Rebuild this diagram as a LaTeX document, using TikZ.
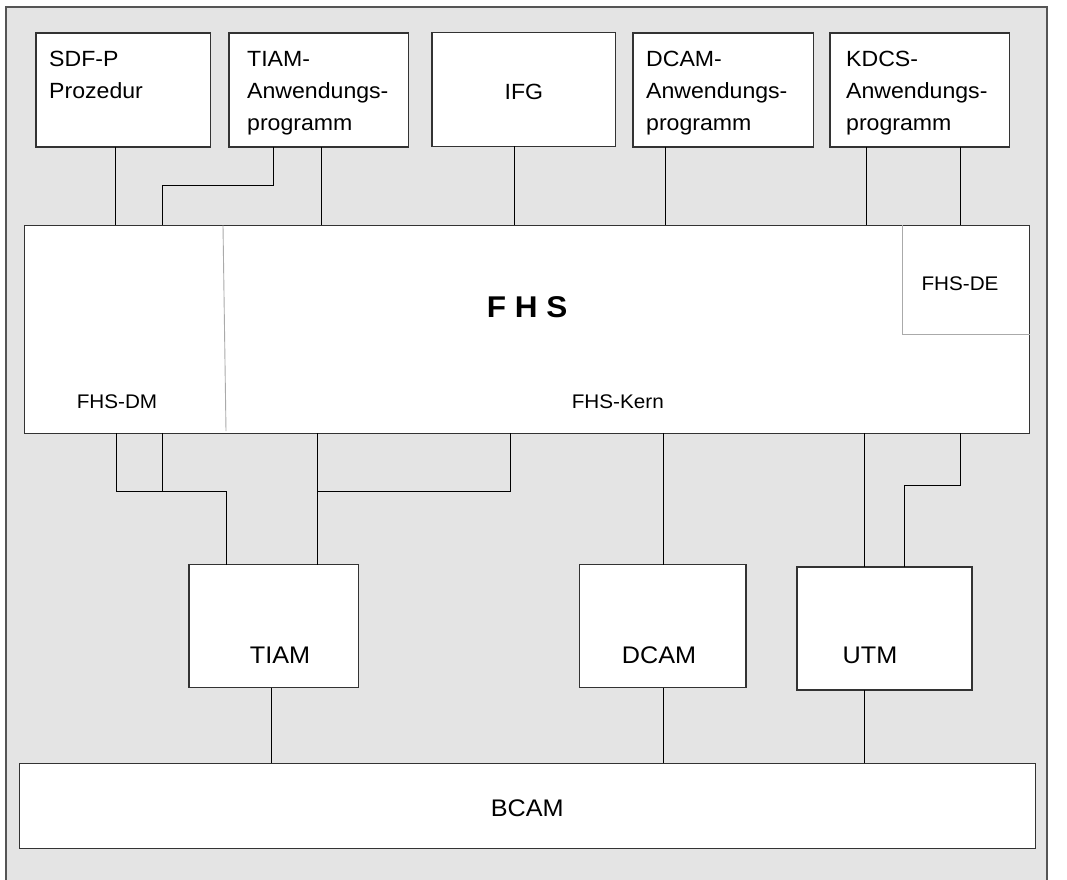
\documentclass[tikz,border=0pt]{standalone}
\usepackage{fontspec}
\setmainfont{Liberation Sans}[FakeStretch=1.05]
\definecolor{bg}{HTML}{E4E4E4}
\definecolor{framec}{HTML}{555555}
\definecolor{boxc}{HTML}{333333}
\definecolor{sepc}{HTML}{AAAAAA}
\begin{document}
\begin{tikzpicture}[x=1bp,y=-1bp,
  box/.style={draw=boxc,line width=1.1bp,fill=white,inner sep=0pt,outer sep=0pt,anchor=north west},
  conn/.style={draw=black,line width=0.9bp},
  sepline/.style={draw=sepc,line width=0.9bp},
  toplbl/.style={inner sep=0pt,anchor=base west,font=\fontsize{22bp}{32bp}\selectfont},
  midlbl/.style={inner sep=0pt,anchor=base,font=\fontsize{22bp}{32bp}\selectfont},
  smalllbl/.style={inner sep=0pt,anchor=base,font=\fontsize{19.7bp}{24bp}\selectfont},
  botlbl/.style={inner sep=0pt,anchor=base,font=\fontsize{24bp}{28bp}\selectfont},
  titlelbl/.style={inner sep=0pt,anchor=base,font=\fontsize{30bp}{36bp}\selectfont\bfseries}
]
\useasboundingbox (0,0) rectangle (1067,880);
\fill[white] (0,0) rectangle (1067,880);
\draw[draw=framec,fill=bg,line width=1.5bp] (6,7) rectangle (1047,884);

% top boxes
\node[box,minimum width=174.7bp,minimum height=114bp] (sdfp) at (36,33) {};
\node[box,minimum width=179.3bp,minimum height=114bp] (tiamapp) at (229,33) {};
\node[box,minimum width=183.7bp,minimum height=114bp] (ifg) at (432,32.3) {};
\node[box,minimum width=180.7bp,minimum height=114bp] (dcamapp) at (633,33) {};
\node[box,minimum width=179.3bp,minimum height=114bp] (kdcsapp) at (830,33) {};

% FHS
\node[box,minimum width=1005bp,minimum height=208bp] (fhs) at (24.7,225.3) {};
\coordinate (dmtop) at (223,225.3);
\coordinate (dmbot) at (226,431);
\coordinate (detop) at (902,225.3);
\coordinate (decorner) at (902,334.5);
\draw[sepline] (dmtop) -- (dmbot);
\draw[sepline] (detop) -- (decorner) -- (fhs.east |- decorner);

% lower boxes
\node[box,minimum width=169.3bp,minimum height=123bp] (tiam) at (189,564.7) {};
\node[box,minimum width=166.3bp,minimum height=123bp] (dcam) at (579.7,564.7) {};
\node[box,minimum width=175bp,minimum height=123bp] (utm) at (797,567) {};
\node[box,minimum width=1016bp,minimum height=85bp] (bcam) at (19.3,763.3) {};

% labels
\node[toplbl] (sdfpt) at (49,66.5) {\begin{tabular}[t]{@{}l@{}}SDF-P\\Prozedur\end{tabular}};
\node[toplbl] (tiamappt) at (247,66.5) {\begin{tabular}[t]{@{}l@{}}TIAM-\\Anwendungs-\\programm\end{tabular}};
\node[midlbl] (ifgt) at (ifg.center |- 0,99) {IFG};
\node[toplbl] (dcamappt) at (646,66.5) {\begin{tabular}[t]{@{}l@{}}DCAM-\\Anwendungs-\\programm\end{tabular}};
\node[toplbl] (kdcsappt) at (846,66.5) {\begin{tabular}[t]{@{}l@{}}KDCS-\\Anwendungs-\\programm\end{tabular}};

\node[titlelbl] (fhst) at (fhs.center |- 0,317) {F H S};
\node[smalllbl] (fhsdet) at (960,290) {FHS-DE};
\node[smalllbl] (fhsdmt) at (117,408) {FHS-DM};
\node[smalllbl] (fhskernt) at (617.8,408) {FHS-Kern};

\node[botlbl] (tiamt) at (280,663) {TIAM};
\node[botlbl] (dcamt) at (659,663) {DCAM};
\node[botlbl] (utmt) at (870,663) {UTM};
\node[botlbl] (bcamt) at (bcam.center |- 0,816) {BCAM};

% connectors top
\draw[conn] (115.3,0 |- sdfp.south) -- (115.3,0 |- fhs.north);
\coordinate (tb1) at (273,185.3);
\coordinate (tb2) at (162,185.3);
\draw[conn] (tb1 |- tiamapp.south) -- (tb1) -- (tb2) -- (tb2 |- fhs.north);
\draw[conn] (321,0 |- tiamapp.south) -- (321,0 |- fhs.north);
\draw[conn] (514,0 |- ifg.south) -- (514,0 |- fhs.north);
\draw[conn] (665,0 |- dcamapp.south) -- (665,0 |- fhs.north);
\draw[conn] (866,0 |- kdcsapp.south) -- (866,0 |- fhs.north);
\draw[conn] (960,0 |- kdcsapp.south) -- (960,0 |- fhs.north);

% connectors bottom
\coordinate (lb1) at (116,491);
\coordinate (lb2) at (162,491);
\coordinate (lb3) at (226,491);
\draw[conn] (lb1 |- fhs.south) -- (lb1) -- (lb3) -- (lb3 |- tiam.north);
\draw[conn] (lb2 |- fhs.south) -- (lb2);
\coordinate (mb1) at (317.3,491);
\coordinate (mb2) at (510,491);
\draw[conn] (mb1 |- fhs.south) -- (mb1 |- tiam.north);
\draw[conn] (mb2 |- fhs.south) -- (mb2) -- (mb1);
\draw[conn] (663.7,0 |- fhs.south) -- (663.7,0 |- dcam.north);
\draw[conn] (864,0 |- fhs.south) -- (864,0 |- utm.north);
\coordinate (rb1) at (960,485.7);
\coordinate (rb2) at (904,485.7);
\draw[conn] (rb1 |- fhs.south) -- (rb1) -- (rb2) -- (rb2 |- utm.north);

\draw[conn] (271.7,0 |- tiam.south) -- (271.7,0 |- bcam.north);
\draw[conn] (663,0 |- dcam.south) -- (663,0 |- bcam.north);
\draw[conn] (864,0 |- utm.south) -- (864,0 |- bcam.north);
\end{tikzpicture}
\end{document}
